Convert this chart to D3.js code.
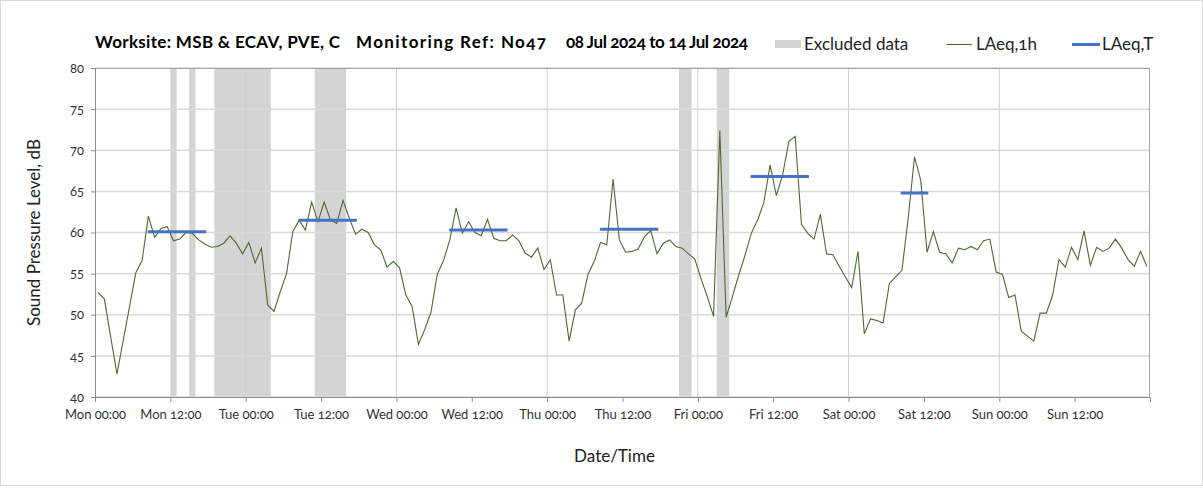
<!DOCTYPE html>
<html>
<head>
<meta charset="utf-8">
<script src="https://cdn.jsdelivr.net/npm/d3@7"></script>
<style>
	body { margin: 0; background: #fff; }
	svg text { font-family: Lato, "Open Sans", sans-serif; font-variant-numeric: oldstyle-nums; }
</style>
</head>
<body>
<div id="chart"></div>
<script>
// hourly LAeq,1h from Mon 08 Jul 2024 00:00, one value per hour
const laeq1h = [
	52.7, 51.9, 47.3, 42.8, 46.9, 51.0, 55.1, 56.6, 62.0, 59.4, 60.5, 60.7,
	59.0, 59.2, 60.0, 59.9, 59.1, 58.6, 58.2, 58.3, 58.7, 59.6, 58.7, 57.4,
	58.8, 56.3, 58.1, 51.2, 50.4, 52.8, 55.0, 60.1, 61.5, 60.3, 63.7, 61.3,
	63.7, 61.5, 61.1, 63.9, 61.7, 59.8, 60.4, 60.0, 58.5, 57.9, 55.8, 56.5,
	55.7, 52.4, 51.0, 46.4, 48.2, 50.3, 54.9, 56.6, 59.1, 63.0, 59.9, 61.3,
	60.0, 59.6, 61.6, 59.3, 59.0, 59.0, 59.7, 59.0, 57.5, 57.0, 58.1, 55.5,
	56.7, 52.4, 52.4, 46.8, 50.6, 51.4, 54.9, 56.5, 58.8, 58.5, 66.5, 59.1,
	57.6, 57.7, 58.0, 59.5, 60.2, 57.4, 58.7, 59.1, 58.3, 58.1, 57.4, 56.8,
	54.4, 52.2, 49.8, 72.4, 49.7, 52.2, 54.8, 57.2, 59.9, 61.5, 63.6, 68.2,
	64.5, 67.0, 71.1, 71.7, 61.0, 59.9, 59.2, 62.2, 57.4, 57.3, 55.9, 54.6,
	53.3, 57.7, 47.7, 49.5, 49.3, 49.0, 53.8, 54.6, 55.4, 61.8, 69.2, 66.3,
	57.6, 60.1, 57.6, 57.4, 56.3, 58.1, 57.9, 58.3, 57.9, 59.0, 59.2, 55.2,
	54.9, 52.1, 52.4, 48.0, 47.4, 46.8, 50.2, 50.2, 52.4, 56.7, 55.8, 58.2,
	56.7, 60.2, 56.0, 58.2, 57.7, 58.1, 59.2, 58.1, 56.7, 55.9, 57.7, 55.9
];

// LAeq,T daytime periods (hours from start)
const periodFrom  = [8.4, 32.4, 56.4, 80.4, 104.4, 128.3];
const periodTo    = [17.7, 41.7, 65.7, 89.7, 113.7, 132.7];
const periodValue = [60.1, 61.5, 60.3, 60.4, 66.8, 64.8];

// excluded data periods (hours from start)
const excludedFrom = [12, 15, 19, 35, 93, 99];
const excludedTo   = [13, 16, 28, 40, 95, 101];

const yTicks = [40, 45, 50, 55, 60, 65, 70, 75, 80];

const start = new Date(2024, 6, 8, 0, 0);
const hour = n => new Date(start.getTime() + n * 3600000);

const W = 1203, H = 488;
const margin = { top: 68, right: 53, bottom: 91, left: 95 };
const width = W - margin.left - margin.right;
const height = H - margin.top - margin.bottom;

const svg = d3.select("#chart").append("svg")
	.attr("width", W).attr("height", H);

svg.append("rect")
	.attr("x", 0.5).attr("y", 0.5).attr("width", W - 1).attr("height", H - 3)
	.attr("fill", "#fff").attr("stroke", "#d9d9d9");

const g = svg.append("g")
	.attr("transform", "translate(" + margin.left + "," + margin.top + ")");

const x = d3.scaleTime().domain([start, hour(168)]).range([0, width]);
const y = d3.scaleLinear().domain([40, 80]).range([height, 0]);

// excluded bands
g.selectAll(".excl").data(excludedFrom).enter().append("rect")
	.attr("class", "excl")
	.attr("x", (d, i) => x(hour(d)))
	.attr("width", (d, i) => x(hour(excludedTo[i])) - x(hour(d)))
	.attr("y", 0).attr("height", height)
	.attr("fill", "#d4d4d4");

// horizontal grid
g.selectAll(".hgrid").data(yTicks).enter().append("line")
	.attr("x1", 0).attr("x2", width)
	.attr("y1", d => y(d)).attr("y2", d => y(d))
	.attr("stroke", "#d9d9d9").attr("stroke-width", 1.5);

// vertical grid at midnight
const days = d3.timeDay.range(hour(1), hour(168));
g.selectAll(".vgrid").data(days).enter().append("line")
	.attr("x1", d => x(d)).attr("x2", d => x(d))
	.attr("y1", 0).attr("y2", height)
	.attr("stroke", "#d0d0d0").attr("stroke-width", 1);

// frame top / right
g.append("path")
	.attr("d", "M0,0.5H" + (width - 0.5) + "V" + height)
	.attr("fill", "none").attr("stroke", "#a6a6a6");

// axes
const xAxis = d3.axisBottom(x)
	.tickValues(d3.timeHour.every(12).range(start, hour(168)))
	.tickFormat(d3.timeFormat("%a %H:%M"))
	.tickSize(5).tickPadding(8);
const xg = g.append("g").attr("transform", "translate(0," + height + ")").call(xAxis);

const yAxis = d3.axisLeft(y).tickValues(yTicks).tickSize(4).tickPadding(7);
const yg = g.append("g").call(yAxis);

[xg, yg].forEach(a => {
	a.select(".domain").attr("stroke", "#8c8c8c");
	a.selectAll(".tick line").attr("stroke", "#8c8c8c");
	a.selectAll(".tick text").attr("fill", "#333").attr("font-size", 13);
});

// LAeq,1h line
const line = d3.line()
	.x((d, i) => x(hour(i + 0.5)))
	.y(d => y(d));

g.append("path").datum(laeq1h)
	.attr("d", line)
	.attr("fill", "none").attr("stroke", "#4f6a2e").attr("stroke-width", 1.1);

// LAeq,T segments
g.selectAll(".laeqT").data(periodValue).enter().append("line")
	.attr("x1", (d, i) => x(hour(periodFrom[i])))
	.attr("x2", (d, i) => x(hour(periodTo[i])))
	.attr("y1", d => y(d)).attr("y2", d => y(d))
	.attr("stroke", "#4472c4").attr("stroke-width", 3);

// axis titles
svg.append("text")
	.attr("transform", "translate(40," + (margin.top + height / 2) + ") rotate(-90)")
	.attr("text-anchor", "middle").attr("font-size", 17).attr("fill", "#222")
	.text("Sound Pressure Level, dB");

svg.append("text")
	.attr("x", margin.left + width / 2 - 8).attr("y", 462)
	.attr("text-anchor", "middle").attr("font-size", 17).attr("fill", "#222")
	.text("Date/Time");

// title
const title = svg.append("g").attr("font-weight", "bold").attr("font-size", 17).attr("fill", "#000");
title.append("text").attr("x", 95).attr("y", 48).attr("textLength", 245).text("Worksite: MSB & ECAV, PVE, C");
title.append("text").attr("x", 356).attr("y", 48).attr("textLength", 190).text("Monitoring Ref: No47");
title.append("text").attr("x", 566).attr("y", 48).attr("textLength", 182).text("08 Jul 2024 to 14 Jul 2024");

// legend
const legend = svg.append("g").attr("font-size", 17).attr("fill", "#222");
legend.append("rect").attr("x", 775).attr("y", 40).attr("width", 26).attr("height", 8).attr("fill", "#d4d4d4");
legend.append("text").attr("x", 804).attr("y", 50).text("Excluded data");
legend.append("line").attr("x1", 947).attr("x2", 972).attr("y1", 44.5).attr("y2", 44.5)
	.attr("stroke", "#4f6a2e").attr("stroke-width", 1.1);
legend.append("text").attr("x", 976).attr("y", 50).text("LAeq,1h");
legend.append("line").attr("x1", 1072).attr("x2", 1100).attr("y1", 44.5).attr("y2", 44.5)
	.attr("stroke", "#4472c4").attr("stroke-width", 3);
legend.append("text").attr("x", 1102).attr("y", 50).text("LAeq,T");
</script>
</body>
</html>
